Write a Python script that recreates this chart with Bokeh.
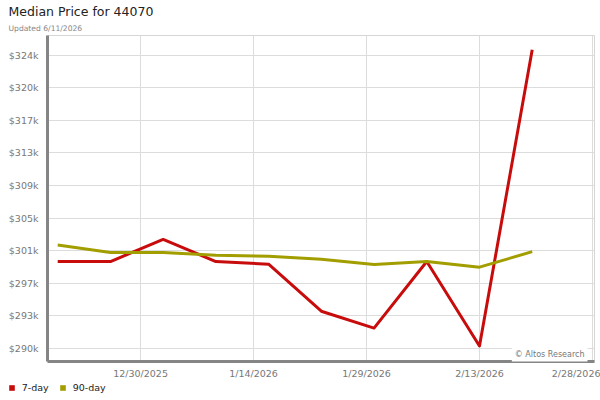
import pandas as pd
from bokeh.plotting import figure
from bokeh.layouts import column
from bokeh.models import (ColumnDataSource, Range1d, FixedTicker, Label, Legend, LegendItem, Title)
from bokeh.embed import file_html
from bokeh.resources import INLINE

# ---- data ----
dates = ["2025-12-19", "2025-12-26", "2026-01-02", "2026-01-09", "2026-01-16",
         "2026-01-23", "2026-01-30", "2026-02-06", "2026-02-13", "2026-02-20"]
price_7day = [300340, 300340, 302960, 300340, 300020, 294450, 292450, 300340, 290330, 325450]
price_90day = [302290, 301400, 301400, 301080, 300960, 300610, 299980, 300340, 299670, 301510]

y_ticks = [290050, 293910, 297770, 301630, 305490, 309350, 313210, 317070, 320930, 324790]
y_tick_labels = ["$290k", "$293k", "$297k", "$301k", "$305k", "$309k", "$313k", "$317k", "$320k", "$324k"]
x_tick_dates = ["2025-12-30", "2026-01-14", "2026-01-29", "2026-02-13", "2026-02-28"]
x_tick_labels = ["12/30/2025", "1/14/2026", "1/29/2026", "2/13/2026", "2/28/2026"]

title_text = "Median Price for 44070"
subtitle_text = "Updated 6/11/2026"
credit_text = "\u00a9 Altos Research"
series_names = ["7-day", "90-day"]
RED = "#c80c0c"
OLIVE = "#a39e00"
FONT = "DejaVu Sans"

src = ColumnDataSource(dict(x=pd.to_datetime(dates), p7=price_7day, p90=price_90day))

p = figure(width=600, height=381, x_axis_type="datetime", output_backend="svg",
           toolbar_location=None, title=None,
           x_range=Range1d(pd.Timestamp("2025-12-17 15:30"), pd.Timestamp("2026-02-28 06:30")),
           y_range=Range1d(288490, 327130),
           min_border_left=47, min_border_right=6, min_border_top=35, min_border_bottom=17)
p.background_fill_color = "white"
p.border_fill_color = "white"
p.outline_line_color = "#d6d6d6"

xt = [int(pd.Timestamp(d).value // 10**6) for d in x_tick_dates]
p.xaxis.ticker = FixedTicker(ticks=xt)
p.xaxis.major_label_overrides = {t: l for t, l in zip(xt, x_tick_labels)}
p.yaxis.ticker = FixedTicker(ticks=y_ticks)
p.yaxis.major_label_overrides = {t: l for t, l in zip(y_ticks, y_tick_labels)}

for ax in (p.xaxis[0], p.yaxis[0]):
    ax.axis_line_color = "#858585"
    ax.axis_line_width = 3
    ax.major_tick_in = 0
    ax.major_tick_out = 0
    ax.minor_tick_in = 0
    ax.minor_tick_out = 0
    ax.major_label_text_font = FONT
    ax.major_label_text_font_size = "9.5px"
    ax.major_label_text_color = "#777777"
p.yaxis.major_label_standoff = 9
p.xaxis.major_label_standoff = 6

p.xgrid.grid_line_color = "#dcdcdc"
p.ygrid.grid_line_color = "#dcdcdc"

p.line("x", "p7", source=src, color=RED, line_width=3, line_join="round")
p.line("x", "p90", source=src, color=OLIVE, line_width=3, line_join="round")

p.add_layout(Title(text=subtitle_text, align="left", offset=-39, standoff=6,
                   text_font=FONT, text_font_size="7.6px", text_font_style="normal",
                   text_color="#888888"), "above")
p.add_layout(Title(text=title_text, align="left", offset=-39, standoff=0,
                   text_font=FONT, text_font_size="12.5px", text_font_style="normal",
                   text_color="#222222"), "above")

p.add_layout(Label(x=540, y=7, x_units="screen", y_units="screen", text=credit_text,
                   text_font=FONT, text_font_size="8px", text_color="#777777",
                   text_align="right", text_baseline="alphabetic",
                   background_fill_color="white", padding=3))

# legend strip (its own small figure, frame spanning the full width)
q = figure(width=600, height=12, output_backend="svg", toolbar_location=None, title=None,
           x_range=Range1d(0, 1), y_range=Range1d(0, 1),
           x_axis_location=None, y_axis_location=None,
           min_border_left=0, min_border_right=0, min_border_top=0, min_border_bottom=0)
for fig in (p, q):
    try:
        fig.frame_align = False
    except Exception:
        pass
q.grid.visible = False
q.outline_line_color = None
q.background_fill_color = "white"
q.border_fill_color = "white"
# legend proxies: one swatch each, kept outside the strip's visible range
proxy = ColumnDataSource(dict(l=[2], r=[3], t=[3], b=[2]))
r1 = q.quad(left="l", right="r", top="t", bottom="b", source=proxy, fill_color=RED, line_color=None)
r2 = q.quad(left="l", right="r", top="t", bottom="b", source=proxy, fill_color=OLIVE, line_color=None)
legend = Legend(items=[LegendItem(label=series_names[0], renderers=[r1]),
                       LegendItem(label=series_names[1], renderers=[r2])],
                orientation="horizontal", location=(7.7, 0),
                padding=0, margin=0, spacing=10, label_standoff=7,
                glyph_width=7, glyph_height=7, label_height=12,
                label_text_font=FONT, label_text_font_size="9.5px", label_text_color="#222222",
                border_line_color=None, background_fill_alpha=0)
q.add_layout(legend, "center")

layout = column(p, q, spacing=0)
open("out.html", "w").write(file_html(layout, INLINE))
